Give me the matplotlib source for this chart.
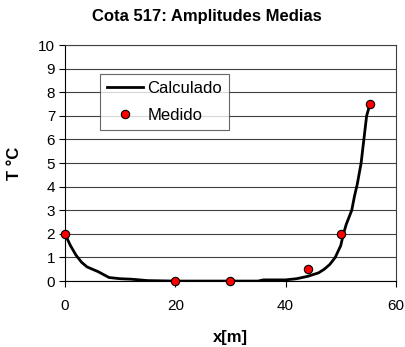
import matplotlib
matplotlib.use("Agg")
import matplotlib.pyplot as plt

plt.rcParams['font.family'] = ['Liberation Sans', 'DejaVu Sans']

calc_x = [0, 0.5, 1, 2, 3, 4, 6, 8, 10, 12, 15, 20, 25, 30, 35, 36, 40, 42, 44, 46, 47, 48, 49, 50, 50.5, 51, 52, 52.5, 53, 53.7, 54.2, 54.7, 55.3]
calc_y = [2.0, 1.75, 1.5, 1.1, 0.8, 0.6, 0.4, 0.15, 0.1, 0.08, 0.02, 0.0, 0.0, 0.0, 0.0, 0.05, 0.05, 0.1, 0.2, 0.35, 0.5, 0.7, 1.0, 1.5, 2.0, 2.4, 3.0, 3.6, 4.1, 5.0, 6.0, 7.0, 7.5]

med_x = [0, 20, 30, 44, 50, 55.3]
med_y = [2.0, 0.0, 0.0, 0.5, 2.0, 7.5]

fig = plt.figure(figsize=(4.06, 3.47), dpi=100)
ax = fig.add_axes([0.160, 0.190, 0.815, 0.680])

ax.plot(calc_x, calc_y, color='black', lw=2, label='Calculado', zorder=3)
ax.plot(med_x, med_y, 'o', markerfacecolor='#ff0000', markeredgecolor='black',
        markeredgewidth=0.8, markersize=6, label='Medido', zorder=4, clip_on=False)

ax.set_xlim(0, 60)
ax.set_ylim(0, 10)
ax.set_xticks([0, 20, 40, 60])
ax.set_yticks(range(0, 11))
ax.yaxis.grid(True, color='#404040', lw=0.8)
ax.set_axisbelow(True)
for s in ax.spines.values():
    s.set_color('#404040')
    s.set_linewidth(0.8)
ax.spines['left'].set_color('black')
ax.spines['bottom'].set_color('black')
ax.tick_params(axis='both', direction='out', length=4, width=0.8, labelsize=11, pad=3)
ax.tick_params(axis='x', pad=9)

fig.text(0.51, 1 - 17 / 347, 'Cota 517: Amplitudes Medias', fontsize=12, fontweight='bold',
         ha='center', va='center')
ax.set_xlabel('x[m]', fontsize=12, fontweight='bold', labelpad=12)
ax.set_ylabel('T °C', fontsize=12, fontweight='bold', labelpad=12)

leg = ax.legend(loc='upper left', bbox_to_anchor=(0.106, 0.877), frameon=True, fancybox=False,
                edgecolor='#404040', fontsize=12, handlelength=2.2, handletextpad=0.25,
                borderpad=0.4, labelspacing=0.75, borderaxespad=0)
leg.get_frame().set_linewidth(0.8)

fig.savefig('out.png', dpi=100)
